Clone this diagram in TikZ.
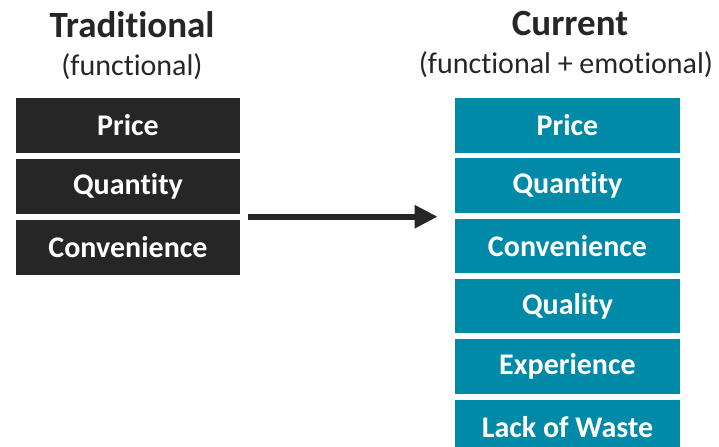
\documentclass[tikz,border=0pt]{standalone}
\usepackage{fontspec}
\setmainfont{Carlito}[Ligatures=NoCommon]
\usepackage{xcolor}
\definecolor{darkbox}{HTML}{262626}
\definecolor{tealbox}{HTML}{008AA8}
\usetikzlibrary{positioning,arrows.meta,calc}

\begin{document}
\begin{tikzpicture}[x=0.5pt, y=-0.5pt,
    oldbox/.style={rectangle, fill=darkbox, text=white, font=\bfseries\fontsize{15}{18}\selectfont, minimum width=112pt, minimum height=27.5pt, inner sep=0pt},
    newbox/.style={rectangle, fill=tealbox, text=white, font=\bfseries\fontsize{15}{18}\selectfont, minimum width=112.5pt, minimum height=27.25pt, inner sep=0pt},
    heading/.style={anchor=base, text=darkbox, font=\bfseries\fontsize{18.5}{22}\selectfont},
    subheading/.style={anchor=base, text=darkbox, font=\fontsize{15}{18}\selectfont},
    arrow/.style={-{Triangle[length=11.5pt, width=11pt]}, line width=3pt, draw=darkbox}
]

\useasboundingbox (0,0) rectangle (719,446);

\node[heading] (trad) at (132,37) {Traditional};
\node[subheading] (tradsub) at (132,75) {(functional)};

\node[heading] (curr) at (570,35) {Current};
\node[subheading] (currsub) at (566,73) {(functional + emotional)};

\node[oldbox] (lprice) at (128,125.5) {Price};
\node[oldbox, below=2.5pt of lprice] (lqty) {Quantity};
\node[oldbox, below=2.5pt of lqty] (lconv) {Convenience};

\node[newbox] (rprice) at (567.5,125.25) {Price};
\node[newbox, below=2.5pt of rprice] (rqty) {Quantity};
\node[newbox, below=2.5pt of rqty] (rconv) {Convenience};
\node[newbox, below=2.5pt of rconv] (rqual) {Quality};
\node[newbox, below=2.5pt of rqual] (rexp) {Experience};
\node[newbox, below=2.5pt of rexp] (rwaste) {Lack of Waste};

\coordinate (from) at ([xshift=4pt]$(lqty.south east)!.5!(lconv.north east)$);
\coordinate (to) at ([xshift=-8.5pt]rconv.north west);
\draw[arrow] (from) -- (from -| to);

\end{tikzpicture}
\end{document}
